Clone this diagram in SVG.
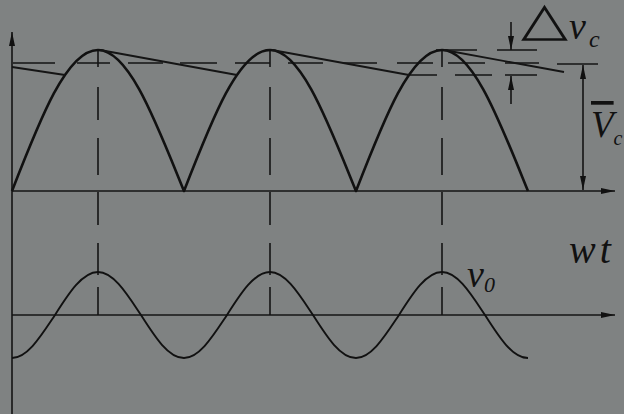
<svg xmlns="http://www.w3.org/2000/svg" width="624" height="414" viewBox="0 0 624 414">
  <style>
    .ax { stroke: #151515; stroke-width: 1.6; fill: none; }
    .cv { stroke: #111; stroke-width: 2.6; fill: none; stroke-linejoin: round; }
    .cv2 { stroke: #111; stroke-width: 1.9; fill: none; }
    .rp { stroke: #151515; stroke-width: 1.8; fill: none; }
    .ds { stroke: #151515; stroke-width: 1.6; fill: none; }
    .lbl { font-family: "Liberation Serif", serif; font-style: italic; fill: #111; }
  </style>
  <defs>
    <marker id="ah" viewBox="0 0 14 6" refX="14" refY="3" markerWidth="14" markerHeight="6" markerUnits="userSpaceOnUse" orient="auto">
      <path d="M0,0 L14,3 L0,6 Z" fill="#111"/>
    </marker>
    <marker id="ahs" viewBox="0 0 14 6" refX="14" refY="3" markerWidth="14" markerHeight="6" markerUnits="userSpaceOnUse" orient="auto-start-reverse">
      <path d="M0,0 L14,3 L0,6 Z" fill="#111"/>
    </marker>
  </defs>
  <rect width="624" height="414" fill="#7f8282"/>

  <!-- axes -->
  <g id="axes">
    <line class="ax" x1="12" y1="414" x2="12" y2="32" marker-end="url(#ah)"/>
    <line class="ax" x1="12" y1="191" x2="615" y2="191" marker-end="url(#ah)"/>
    <line class="ax" x1="12" y1="315" x2="615" y2="315" marker-end="url(#ah)"/>
  </g>

  <!-- dashed guide lines -->
  <g id="guides">
    <path class="ds" d="M98,50 V67 M98,87 V120 M98,138 V175 M98,192 V225 M98,243 V275 M98,287 V315"/>
    <path class="ds" d="M270,50 V67 M270,87 V120 M270,138 V175 M270,192 V225 M270,243 V275 M270,287 V315"/>
    <path class="ds" d="M442,50 V67 M442,87 V120 M442,138 V175 M442,192 V225 M442,243 V275 M442,287 V315"/>
    <path class="ds" d="M13,63 H55 M77,63 H110 M128,63 H163 M180,63 H217 M235,63 H270 M288,63 H323 M343,63 H377 M397,63 H433 M448,63 H485 M505,63 H539"/>
    <path class="ds" d="M436,50 H477 M497,50 H537"/>
    <path class="ds" d="M410,75 H437 M455,75 H492 M505,75 H537"/>
  </g>

  <!-- rectified waveform -->
  <g id="rectified">
    <path class="cv" d="M12,191 c28.05,-72.2 54.88,-141 86,-141 c31.12,0 57.950,72.2 86,141 c28.05,-72.2 54.88,-141 86,-141 c31.12,0 57.95,72.2 86,141 c28.05,-72.2 54.88,-141 86,-141 c31.12,0 57.95,72.2 86,141"/>
  </g>

  <!-- capacitor discharge ripple lines -->
  <g id="ripple">
    <line class="rp" x1="12" y1="67" x2="65" y2="75"/>
    <line class="rp" x1="100" y1="50" x2="237" y2="75"/>
    <line class="rp" x1="272" y1="50" x2="409" y2="75"/>
    <line class="rp" x1="444" y1="50" x2="564" y2="72"/>
  </g>

  <!-- output ripple -->
  <g id="output">
    <path class="cv2" d="M12,358 c15.57,0 28.98,-22.03 43,-43 c14.02,-22.03 27.43,-43 43,-43 c15.57,0 28.98,22.03 43,43 c14.02,22.03 27.43,43 43,43 c15.57,0 28.98,-22.03 43,-43 c14.02,-22.03 27.43,-43 43,-43 c15.57,0 28.98,22.03 43,43 c14.02,22.03 27.43,43 43,43 c15.57,0 28.98,-22.03 43,-43 c14.02,-22.03 27.43,-43 43,-43 c15.57,0 28.98,22.03 43,43 c14.02,22.03 27.43,43 43,43"/>
  </g>

  <!-- dimension marks -->
  <g id="delta-vc-dim">
    <line class="ax" x1="511" y1="22" x2="511" y2="50" marker-end="url(#ah)"/>
    <line class="ax" x1="511" y1="104" x2="511" y2="76" marker-end="url(#ah)"/>
  </g>
  <g id="vc-dim">
    <line class="ax" x1="557" y1="64" x2="598" y2="64"/>
    <line class="ax" x1="583" y1="65" x2="583" y2="190" marker-start="url(#ahs)" marker-end="url(#ah)"/>
  </g>

  <!-- labels -->
  <g id="labels">
    <text transform="translate(521,35) scale(1.3,1)" font-family="DejaVu Sans, sans-serif" font-size="47" font-weight="300" fill="#111">△</text>
    <text class="lbl" x="569" y="39" font-size="38">v<tspan font-size="24" dx="3" dy="8">c</tspan></text>
    <text class="lbl" x="591" y="137" font-size="37"><tspan text-decoration="overline">V</tspan><tspan font-size="20" dy="8">c</tspan></text>
    <text class="lbl" x="569" y="263" font-size="40" letter-spacing="4">wt</text>
    <text class="lbl" x="467" y="287" font-size="38">v<tspan font-size="22" dy="5">0</tspan></text>
  </g>
</svg>
